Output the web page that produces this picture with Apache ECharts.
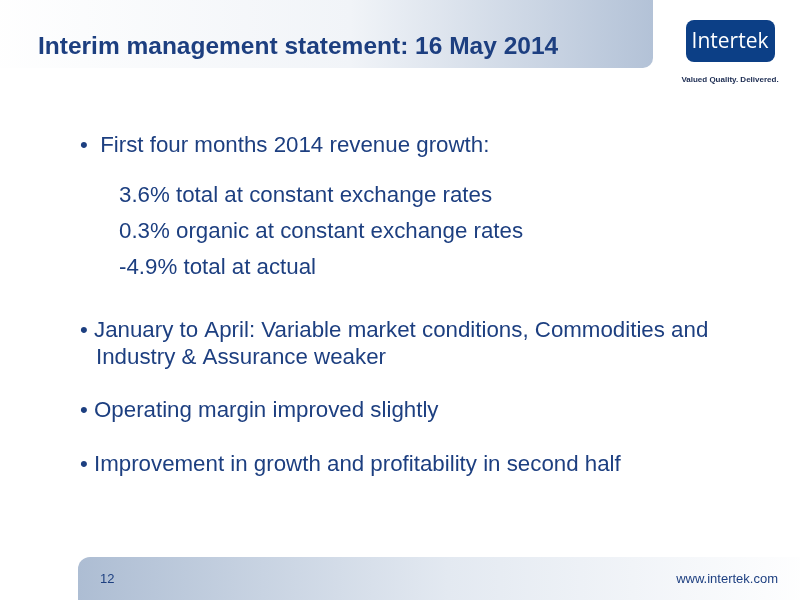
<!DOCTYPE html>
<html>
<head>
<meta charset="utf-8">
<script src="https://cdn.jsdelivr.net/npm/echarts@6/dist/echarts.min.js"></script>
<style>html,body{margin:0;padding:0;background:#fff}#main{width:800px;height:600px}</style>
</head>
<body>
<div id="main"></div>
<script>
// Contenido de la diapositiva
const titleText = "Interim management statement: 16 May 2014";
const bulletLines = [
  { text: "•  First four months 2014 revenue growth:", x: 80, y: 146 },
  { text: "3.6% total at constant exchange rates", x: 119, y: 196 },
  { text: "0.3% organic at constant exchange rates", x: 119, y: 232 },
  { text: "-4.9% total at actual", x: 119, y: 268 },
  { text: "• January to April: Variable market conditions, Commodities and", x: 80, y: 331 },
  { text: "Industry & Assurance weaker", x: 96, y: 358 },
  { text: "• Operating margin improved slightly", x: 80, y: 411 },
  { text: "• Improvement in growth and profitability in second half", x: 80, y: 465 },
];
const pageNumber = "12";
const siteUrl = "www.intertek.com";

const chart = echarts.init(document.getElementById("main"));
const font = "'Liberation Sans', Arial, sans-serif";

const elements = [
  // banda del título
  {
    type: "rect",
    shape: { x: -20, y: -20, width: 673, height: 88, r: [0, 0, 10, 0] },
    style: {
      fill: {
        type: "linear", x: 0, y: 0, x2: 1, y2: 0,
        colorStops: [
          { offset: 0, color: "#ffffff" },
          { offset: 0.55, color: "#f1f4f8" },
          { offset: 1, color: "#b3c2d7" },
        ],
      },
    },
  },
  {
    type: "text",
    style: { text: titleText, x: 38, y: 47, fill: "#1d3f80", font: "bold 24.5px " + font, textVerticalAlign: "middle" },
  },
  // logo
  { type: "rect", shape: { x: 686, y: 20, width: 89, height: 42, r: 8 }, style: { fill: "#0c3f86" } },
  {
    type: "text",
    style: { text: "Intertek", x: 730, y: 42, fill: "#ffffff", font: "21px 'Open Sans', sans-serif", textAlign: "center", textVerticalAlign: "middle" },
  },
  {
    type: "text",
    style: { text: "Valued Quality. Delivered.", x: 730, y: 80, fill: "#1a2a50", font: "bold 8px " + font, textAlign: "center", textVerticalAlign: "middle" },
  },
  // pie de página
  {
    type: "rect",
    shape: { x: 78, y: 557, width: 740, height: 60, r: [12, 0, 0, 0] },
    style: {
      fill: {
        type: "linear", x: 0, y: 0, x2: 1, y2: 0,
        colorStops: [
          { offset: 0, color: "#adbdd3" },
          { offset: 0.5, color: "#e3e9f1" },
          { offset: 1, color: "#ffffff" },
        ],
      },
    },
  },
  { type: "text", style: { text: pageNumber, x: 100, y: 579, fill: "#1d3f80", font: "13px " + font, textVerticalAlign: "middle" } },
  { type: "text", style: { text: siteUrl, x: 778, y: 579, fill: "#1d3f80", font: "13px " + font, textAlign: "right", textVerticalAlign: "middle" } },
];

bulletLines.forEach((l) => {
  elements.push({
    type: "text",
    style: { text: l.text, x: l.x, y: l.y, fill: "#1d3f80", font: "22.3px " + font, textVerticalAlign: "middle" },
  });
});

chart.setOption({ animation: false, graphic: { elements: elements } });
</script>
</body>
</html>
